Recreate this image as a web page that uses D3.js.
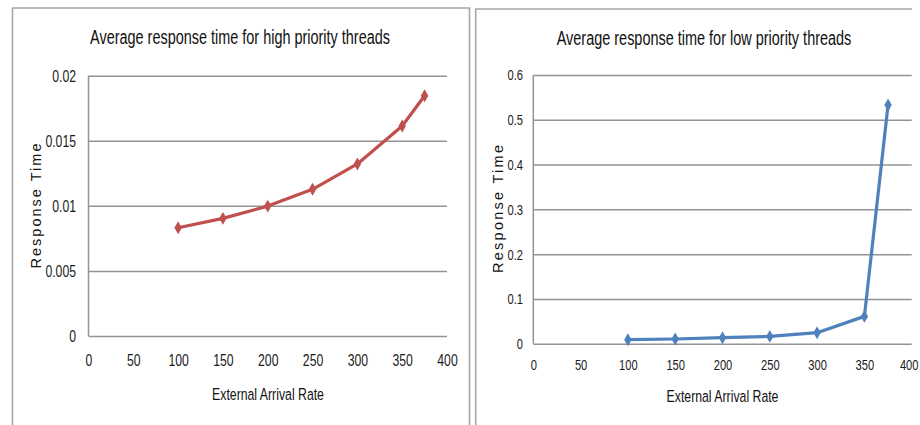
<!DOCTYPE html>
<html>
<head>
<meta charset="utf-8">
<script src="https://cdn.jsdelivr.net/npm/d3@7"></script>
<style>
  html, body { margin: 0; padding: 0; background: #fff; }
  svg { display: block; }
  text { font-family: "Liberation Sans", Arial, sans-serif; }
</style>
</head>
<body>
<svg id="chart" width="920" height="425"></svg>
<script>
// ---- data ----
const arrivalRates = [100, 150, 200, 250, 300, 350, 375];
const highPriorityResponse = [0.00832, 0.00904, 0.00998, 0.01127, 0.01322, 0.01614, 0.01846];
const lowPriorityResponse = [0.0089, 0.0105, 0.0134, 0.0163, 0.0246, 0.0610, 0.533];
const xTickValues = [0, 50, 100, 150, 200, 250, 300, 350, 400];
const highYTicks = [0, 0.005, 0.01, 0.015, 0.02];
const lowYTicks = [0, 0.1, 0.2, 0.3, 0.4, 0.5, 0.6];
const titles = ["Average response time for high priority threads", "Average response time for low priority threads"];
const xAxisTitle = "External Arrival Rate";
const yAxisTitle = "Response Time";

const svg = d3.select("#chart");
const SQ = 0.72;

function condensedText(parent, cx, baseY, size, targetW, str) {
  const gg = parent.append("g");
  const t = gg.append("text").attr("x", 0).attr("y", 0)
    .attr("text-anchor", "middle").attr("font-size", size).attr("fill", "#111").text(str);
  const w = t.node().getComputedTextLength();
  gg.attr("transform", `translate(${cx},${baseY}) scale(${targetW / w},1)`);
}

function drawPanel(cfg) {
  const g = svg.append("g");
  const b = cfg.border;
  const bp = d3.path();
  bp.moveTo(b.x0, b.y1); bp.lineTo(b.x0, b.y0); bp.lineTo(b.x1, b.y0);
  if (b.right) bp.lineTo(b.x1, b.y1);
  g.append("path").attr("d", bp.toString()).attr("fill", "none")
    .attr("stroke", "#a6a6a6").attr("stroke-width", 1.6);

  const x = d3.scaleLinear().domain([0, 400]).range([cfg.px0, cfg.px1]);
  const y = d3.scaleLinear().domain(cfg.yDomain).range([cfg.py1, cfg.py0]);

  g.append("g").attr("transform", `translate(${cfg.px0},0)`)
    .call(d3.axisLeft(y).tickValues(cfg.yTicks).tickSize(-(cfg.px1 - cfg.px0)).tickFormat(""))
    .call(a => a.select(".domain").remove())
    .call(a => a.selectAll("line").attr("stroke", "#939393").attr("stroke-width", 1.5));

  g.append("line").attr("x1", cfg.px0).attr("x2", cfg.px0)
    .attr("y1", cfg.py0).attr("y2", cfg.py1)
    .attr("stroke", "#939393").attr("stroke-width", 1.5);

  const yAx = g.append("g").attr("transform", `translate(${cfg.yLabelX},0)`)
    .call(d3.axisLeft(y).tickValues(cfg.yTicks).tickSize(0).tickPadding(0).tickFormat(d => String(d)));
  yAx.select(".domain").remove();
  yAx.selectAll("text").attr("font-size", cfg.tickSize).attr("fill", "#1a1a1a")
    .attr("x", 0).attr("transform", `scale(${SQ},1)`);

  const xAx = g.append("g").attr("transform", `translate(0,${cfg.xLabelY})`)
    .call(d3.axisBottom(x).tickValues(xTickValues).tickSize(0).tickPadding(0).tickFormat(d => String(d)));
  xAx.select(".domain").remove();
  xAx.selectAll("text").attr("font-size", cfg.tickSize).attr("fill", "#1a1a1a")
    .attr("transform", `scale(${SQ},1)`);
  if (cfg.lastTickEnd) {
    xAx.selectAll("text").filter(d => d === 400)
      .attr("text-anchor", "end").attr("x", (cfg.lastTickEnd - x(400)) / SQ);
  }

  condensedText(g, cfg.titleX, cfg.titleY, 21, cfg.titleW, cfg.title);
  condensedText(g, cfg.xtX, cfg.xtY, 16.5, 112, xAxisTitle);

  g.append("text").attr("transform", `translate(${cfg.ytX},${cfg.ytY}) rotate(-90)`)
    .attr("text-anchor", "middle").attr("font-size", 14.5).attr("fill", "#111")
    .attr("textLength", cfg.ytW).attr("lengthAdjust", "spacing")
    .text(yAxisTitle);

  const pts = arrivalRates.map((r, i) => [r, cfg.values[i]]);
  g.append("path").datum(pts)
    .attr("fill", "none").attr("stroke", cfg.color).attr("stroke-width", 3.2)
    .attr("stroke-linejoin", "round")
    .attr("d", d3.line().x(d => x(d[0])).y(d => y(d[1])));

  g.selectAll(".mk").data(pts).join("path")
    .attr("transform", d => `translate(${x(d[0])},${y(d[1])})`)
    .attr("d", d3.symbol().type(d3.symbolDiamond).size(48))
    .attr("fill", cfg.color);
}

drawPanel({
  border: { x0: 12.5, y0: 8, x1: 469.5, y1: 425, right: true },
  px0: 88.5, px1: 447, py0: 75.7, py1: 336,
  yDomain: [0, 0.02], yTicks: highYTicks,
  yLabelX: 76, xLabelY: 354, tickSize: 17,
  title: titles[0], titleX: 240, titleY: 44, titleW: 300,
  xtX: 268, xtY: 400, ytX: 41, ytY: 206, ytW: 125,
  values: highPriorityResponse, color: "#c0504d"
});

drawPanel({
  border: { x0: 475.7, y0: 9, x1: 912, y1: 425, right: false },
  px0: 533.3, px1: 911.7, py0: 75, py1: 343.7,
  yDomain: [0, 0.6], yTicks: lowYTicks,
  yLabelX: 523, xLabelY: 359, tickSize: 15.5,
  title: titles[1], titleX: 704, titleY: 45, titleW: 295,
  xtX: 722.5, xtY: 402, ytX: 503, ytY: 209, ytW: 128,
  values: lowPriorityResponse, color: "#4f81bd", lastTickEnd: 918
});
</script>
</body>
</html>
